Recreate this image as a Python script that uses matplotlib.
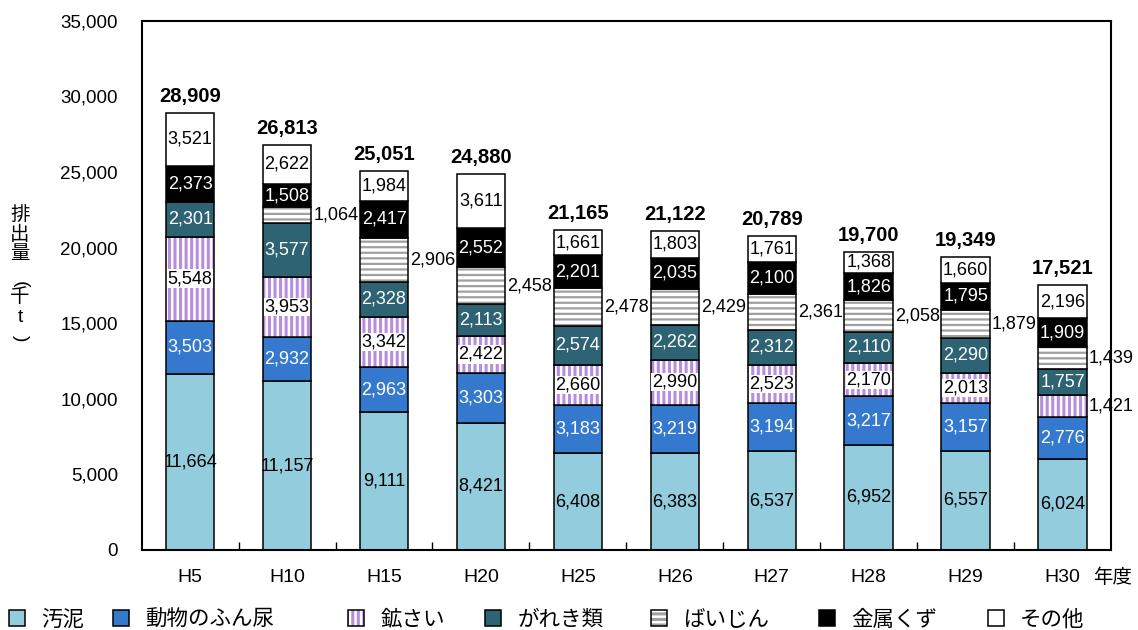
import matplotlib.pyplot as plt
import numpy as np
from matplotlib.patches import Patch
from matplotlib.legend_handler import HandlerTuple

plt.rcParams['font.family'] = ['Liberation Sans', 'Noto Sans CJK JP']
plt.rcParams['hatch.linewidth'] = 2.2

# 年度別 排出量（千t）
years = ['H5', 'H10', 'H15', 'H20', 'H25', 'H26', 'H27', 'H28', 'H29', 'H30']
sludge = [11664, 11157, 9111, 8421, 6408, 6383, 6537, 6952, 6557, 6024]
manure = [3503, 2932, 2963, 3303, 3183, 3219, 3194, 3217, 3157, 2776]
slag = [5548, 3953, 3342, 2422, 2660, 2990, 2523, 2170, 2013, 1421]
rubble = [2301, 3577, 2328, 2113, 2574, 2262, 2312, 2110, 2290, 1757]
dust = [0, 1064, 2906, 2458, 2478, 2429, 2361, 2058, 1879, 1439]
metal = [2373, 1508, 2417, 2552, 2201, 2035, 2100, 1826, 1795, 1909]
other = [3521, 2622, 1984, 3611, 1661, 1803, 1761, 1368, 1660, 2196]
totals = [28909, 26813, 25051, 24880, 21165, 21122, 20789, 19700, 19349, 17521]

names = ['汚泥', '動物のふん尿', '鉱さい', 'がれき類', 'ばいじん', '金属くず', 'その他']
series = [sludge, manure, slag, rubble, dust, metal, other]
colors = ['#93cddd', '#3579cf', 'white', '#2e6373', 'white', 'black', 'white']
hatches = [None, None, '|||', None, '---', None, None]
hatch_colors = [None, None, '#b68edd', None, '#a0a0a0', None, None]
hatch_widths = [None, None, 2.2, None, 1.6, None, None]
text_colors = ['black', 'white', 'black', 'white', 'black', 'white', 'black']
legend_x = [9, 113, 348, 485, 651, 819, 988]  # key left edge, px

# vertical y-axis title, one glyph per row (text, y px, rotation)
ylabel_parts = [('排', 215, 0), ('出', 235, 0), ('量', 255, 0), ('(', 284, -90),
                ('千', 297, 0), ('t', 318, 0), (')', 338, -90)]

fig, ax = plt.subplots(figsize=(11.38, 6.3), dpi=100)
fig.subplots_adjust(left=0.1245, right=0.9763, bottom=0.127, top=0.967)

x = np.arange(len(years))
w = 0.5
bottom = np.zeros(len(years))
handles = []
for i, vals in enumerate(series):
    vals = np.array(vals, float)
    if hatches[i]:
        with plt.rc_context({'hatch.linewidth': hatch_widths[i]}):
            ax.bar(x, vals, w, bottom=bottom, color=colors[i], edgecolor=hatch_colors[i],
                   hatch=hatches[i], linewidth=0)
            hp = Patch(facecolor='white', edgecolor=hatch_colors[i], hatch=hatches[i], linewidth=0)
        ax.bar(x, vals, w, bottom=bottom, color='none', edgecolor='black', linewidth=1.1)
        handles.append((hp, Patch(facecolor='none', edgecolor='black', linewidth=1.1)))
    else:
        ax.bar(x, vals, w, bottom=bottom, color=colors[i], edgecolor='black', linewidth=1.1)
        handles.append(Patch(facecolor=colors[i], edgecolor='black', linewidth=1.1))
    for j, v in enumerate(vals):
        if v == 0:
            continue
        yc = bottom[j] + v / 2
        if i == 4 or (i == 2 and v < 1500):
            ax.text(x[j] + w / 2 + 0.02, yc, f'{v:,.0f}', ha='left', va='center',
                    fontsize=13, zorder=5)
        else:
            bbox = dict(facecolor='white', edgecolor='none', pad=0.5) if i == 2 else None
            ax.text(x[j], yc, f'{v:,.0f}', ha='center', va='center', fontsize=13,
                    color=text_colors[i], bbox=bbox, zorder=5)
    bottom += vals

for j, t in enumerate(totals):
    ax.annotate(f'{t:,}', xy=(x[j], bottom[j]), xytext=(0, 5), textcoords='offset points',
                ha='center', va='bottom', fontsize=14.5, fontweight='bold')

ax.set_xlim(-0.5, len(years) - 0.5)
ax.set_ylim(0, 35000)
ax.set_yticks(np.arange(0, 35001, 5000))
ax.set_yticklabels([f'{v:,}' for v in range(0, 35001, 5000)])
ax.set_xticks(x)
ax.set_xticklabels(years)
ax.set_xticks(np.arange(0.5, len(years) - 1, 1), minor=True)
ax.tick_params(axis='x', which='major', length=0, pad=14, labelsize=14)
ax.tick_params(axis='x', which='minor', length=6, direction='in', width=1)
ax.tick_params(axis='y', length=0, pad=17, labelsize=13.5)
for s in ax.spines.values():
    s.set_linewidth(1.5)

ax.annotate('年度', xy=(1, 0), xycoords='axes fraction', xytext=(-18, -28),
            textcoords='offset pixels', ha='left', va='center', fontsize=14)
for ch, yp, rot in ylabel_parts:
    fig.text(20 / 1138, 1 - yp / 630, ch, ha='center', va='center', fontsize=14,
             rotation=rot)

for h, name, lx in zip(handles, names, legend_x):
    fig.legend([h], [name], loc='center left', bbox_to_anchor=(lx / 1138, 1 - 620 / 630),
               frameon=False, fontsize=15.5, handlelength=0.75, handleheight=0.7,
               handletextpad=0.75, borderpad=0, borderaxespad=0,
               handler_map={tuple: HandlerTuple(ndivide=1, pad=0)})

plt.savefig('out.png', dpi=100)
